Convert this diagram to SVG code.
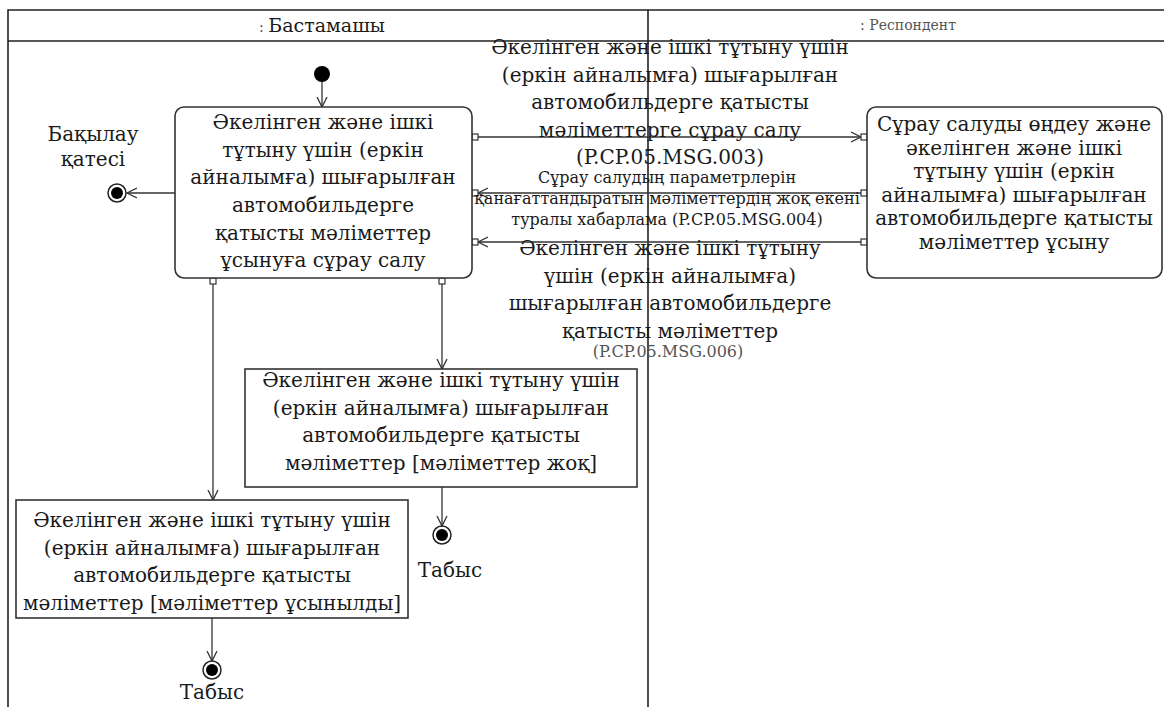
<svg xmlns="http://www.w3.org/2000/svg" width="1164" height="707" viewBox="0 0 1164 707">
<style>
text{font-family:"DejaVu Serif","Liberation Serif",serif;fill:#1a1a1a;text-anchor:middle}
.t{font-size:20px}
.s{font-size:16px}
.g{fill:#555}
.frame{fill:none;stroke:#222;stroke-width:1.6}
.box{fill:#fff;stroke:#333;stroke-width:1.6}
.ln{fill:none;stroke:#333;stroke-width:1.3}
.pin{fill:#fff;stroke:#333;stroke-width:1.2}
</style>
<defs>
<marker id="arr" markerWidth="12" markerHeight="12" refX="10" refY="5" orient="auto" markerUnits="userSpaceOnUse" viewBox="0 0 12 10">
<path d="M0,0 L10,5 L0,10" fill="none" stroke="#333" stroke-width="1.3"/>
</marker>
</defs>
<rect width="1164" height="707" fill="#fff"/>
<g id="swimlanes">
<path class="frame" d="M8,707 V10 H1164 M8,41 H1164 M648,10 V707"/>
<text x="322" y="32" style="font-size:19px"><tspan class="g" style="font-size:14px">: </tspan>Бастамашы</text>
<text x="908" y="30" class="g" style="font-size:14px">: Респондент</text>
</g>
<g id="connectors">
<line class="ln" x1="322" y1="82" x2="322" y2="107" marker-end="url(#arr)"/>
<line class="ln" x1="175" y1="193" x2="127" y2="193" marker-end="url(#arr)"/>
<line class="ln" x1="478" y1="137" x2="861" y2="137" marker-end="url(#arr)"/>
<line class="ln" x1="861" y1="193" x2="478" y2="193" marker-end="url(#arr)"/>
<line class="ln" x1="861" y1="242" x2="478" y2="242" marker-end="url(#arr)"/>
<line class="ln" x1="442" y1="284" x2="442" y2="369" marker-end="url(#arr)"/>
<line class="ln" x1="213" y1="284" x2="213" y2="500" marker-end="url(#arr)"/>
<line class="ln" x1="442" y1="487" x2="442" y2="526" marker-end="url(#arr)"/>
<line class="ln" x1="212" y1="618" x2="212" y2="661" marker-end="url(#arr)"/>
<rect class="pin" x="472" y="134" width="6" height="6"/>
<rect class="pin" x="472" y="190" width="6" height="6"/>
<rect class="pin" x="472" y="239" width="6" height="6"/>
<rect class="pin" x="861" y="134" width="6" height="6"/>
<rect class="pin" x="861" y="190" width="6" height="6"/>
<rect class="pin" x="861" y="239" width="6" height="6"/>
<rect class="pin" x="210" y="278" width="6" height="6"/>
<rect class="pin" x="439" y="278" width="6" height="6"/>
<text class="t" x="670" y="54">Әкелінген және ішкі тұтыну үшін</text>
<text class="t" x="670" y="82">(еркін айналымға) шығарылған</text>
<text class="t" x="670" y="109">автомобильдерге қатысты</text>
<text class="t" x="670" y="137">мәліметтерге сұрау салу</text>
<text class="t" x="670" y="164">(P.CP.05.MSG.003)</text>
<text class="s" x="667" y="183">Сұрау салудың параметрлерін</text>
<text class="s" x="667" y="204">қанағаттандыратын мәліметтердің жоқ екені</text>
<text class="s" x="667" y="225">туралы хабарлама (P.CP.05.MSG.004)</text>
<text class="t" x="670" y="255">Әкелінген және ішкі тұтыну</text>
<text class="t" x="670" y="283">үшін (еркін айналымға)</text>
<text class="t" x="670" y="310">шығарылған автомобильдерге</text>
<text class="t" x="670" y="338">қатысты мәліметтер</text>
<text class="s g" x="668" y="357">(P.CP.05.MSG.006)</text>
</g>
<g id="start">
<circle cx="322" cy="74" r="8" fill="#000"/>
</g>
<g id="request">
<rect class="box" x="175" y="107" width="297" height="171" rx="9"/>
<text class="t" x="323" y="129">Әкелінген және ішкі</text>
<text class="t" x="323" y="157">тұтыну үшін (еркін</text>
<text class="t" x="323" y="184">айналымға) шығарылған</text>
<text class="t" x="323" y="212">автомобильдерге</text>
<text class="t" x="323" y="240">қатысты мәліметтер</text>
<text class="t" x="323" y="267">ұсынуға сұрау салу</text>
</g>
<g id="control-error">
<circle cx="117" cy="193" r="9" fill="#fff" stroke="#222" stroke-width="1.5"/>
<circle cx="117" cy="193" r="6" fill="#000"/>
<text class="t" x="93" y="141">Бақылау</text>
<text class="t" x="93" y="166">қатесі</text>
</g>
<g id="process">
<rect class="box" x="867" y="107" width="295" height="171" rx="9"/>
<text class="t" x="1014" y="131">Сұрау салуды өңдеу және</text>
<text class="t" x="1014" y="155">әкелінген және ішкі</text>
<text class="t" x="1014" y="178">тұтыну үшін (еркін</text>
<text class="t" x="1014" y="202">айналымға) шығарылған</text>
<text class="t" x="1014" y="225">автомобильдерге қатысты</text>
<text class="t" x="1014" y="249">мәліметтер ұсыну</text>
</g>
<g id="no-data">
<rect class="box" x="245" y="369" width="392" height="118"/>
<text class="t" x="441" y="387">Әкелінген және ішкі тұтыну үшін</text>
<text class="t" x="441" y="415">(еркін айналымға) шығарылған</text>
<text class="t" x="441" y="442">автомобильдерге қатысты</text>
<text class="t" x="441" y="470">мәліметтер [мәліметтер жоқ]</text>
</g>
<g id="final-no-data">
<circle cx="442" cy="535" r="9" fill="#fff" stroke="#222" stroke-width="1.5"/>
<circle cx="442" cy="535" r="6" fill="#000"/>
<text class="t" x="450" y="577">Табыс</text>
</g>
<g id="data-provided">
<rect class="box" x="16" y="500" width="392" height="118"/>
<text class="t" x="212" y="527">Әкелінген және ішкі тұтыну үшін</text>
<text class="t" x="212" y="555">(еркін айналымға) шығарылған</text>
<text class="t" x="212" y="582">автомобильдерге қатысты</text>
<text class="t" x="212" y="610">мәліметтер [мәліметтер ұсынылды]</text>
</g>
<g id="final-data">
<circle cx="212" cy="670" r="9" fill="#fff" stroke="#222" stroke-width="1.5"/>
<circle cx="212" cy="670" r="6" fill="#000"/>
<text class="t" x="212" y="699">Табыс</text>
</g>
</svg>
